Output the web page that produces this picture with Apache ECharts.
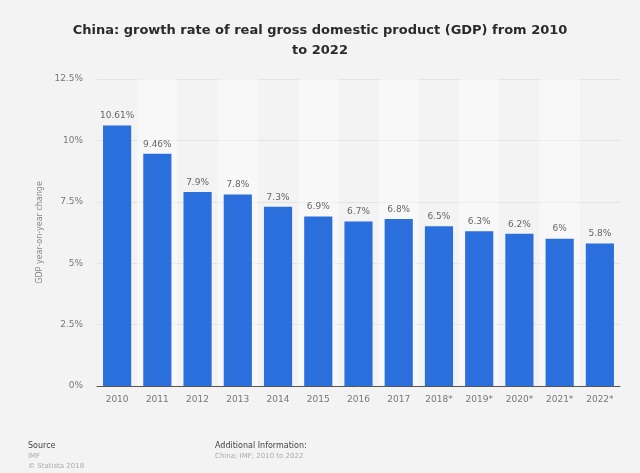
<!DOCTYPE html>
<html><head><meta charset="utf-8">
<script src="https://cdn.jsdelivr.net/npm/echarts@6/dist/echarts.min.js"></script>
<style>html,body{margin:0;padding:0;background:#fbfbfb;}#c{width:640px;height:473px;}</style>
</head><body><div id="c"></div>
<script>
const categories = ['2010','2011','2012','2013','2014','2015','2016','2017','2018*','2019*','2020*','2021*','2022*'];
const values = [10.61, 9.46, 7.9, 7.8, 7.3, 6.9, 6.7, 6.8, 6.5, 6.3, 6.2, 6, 5.8];
const yTicks = [0, 2.5, 5, 7.5, 10, 12.5];

const chart = echarts.init(document.getElementById('c'), null, {renderer:'canvas'});
chart.setOption({
  backgroundColor: '#f3f3f3',
  animation: false,
  title: {
    text: 'China: growth rate of real gross domestic product (GDP) from 2010\nto 2022',
    left: 'center', top: 16,
    textStyle: {fontFamily: 'DejaVu Sans', fontSize: 13, fontWeight: 'bold', color: '#2b2b2b', lineHeight: 20}
  },
  grid: {left: 97, right: 20, top: 79, bottom: 87, containLabel: false},
  xAxis: {
    type: 'category', data: categories,
    axisLine: {show: true, lineStyle: {color: '#555', width: 1}},
    axisTick: {show: false},
    axisLabel: {color: '#777', fontSize: 9, fontFamily: 'DejaVu Sans', margin: 9},
    splitArea: {show: true, areaStyle: {color: ['rgba(255,255,255,0)', 'rgba(255,255,255,0.45)']}}
  },
  yAxis: {
    type: 'value', min: yTicks[0], max: yTicks[yTicks.length-1], interval: 2.5,
    name: 'GDP year-on-year change', nameLocation: 'middle', nameGap: 52,
    nameTextStyle: {color: '#888', fontSize: 8, fontFamily: 'DejaVu Sans'},
    axisLine: {show: false}, axisTick: {show: false},
    axisLabel: {color: '#777', fontSize: 9, fontFamily: 'DejaVu Sans', margin: 14,
      formatter: v => v + '%'},
    splitLine: {lineStyle: {color: '#e3e3e3', width: 1}}
  },
  series: [{
    type: 'bar', data: values, barCategoryGap: '30%',
    itemStyle: {color: '#2a6fdb'},
    label: {show: true, position: 'top', distance: 5, color: '#666', fontSize: 9, fontFamily: 'DejaVu Sans',
      formatter: p => p.value + '%'}
  }],
  graphic: [
    {type: 'text', left: 28, top: 442, style: {text: 'Source', fill: '#444', font: '8px DejaVu Sans'}},
    {type: 'text', left: 28, top: 453, style: {text: 'IMF', fill: '#aaa', font: '7px DejaVu Sans'}},
    {type: 'text', left: 28, top: 463, style: {text: '© Statista 2018', fill: '#aaa', font: '7px DejaVu Sans'}},
    {type: 'text', left: 215, top: 442, style: {text: 'Additional Information:', fill: '#444', font: '8px DejaVu Sans'}},
    {type: 'text', left: 215, top: 453, style: {text: 'China; IMF; 2010 to 2022', fill: '#aaa', font: '7px DejaVu Sans'}}
  ]
});
</script></body></html>
